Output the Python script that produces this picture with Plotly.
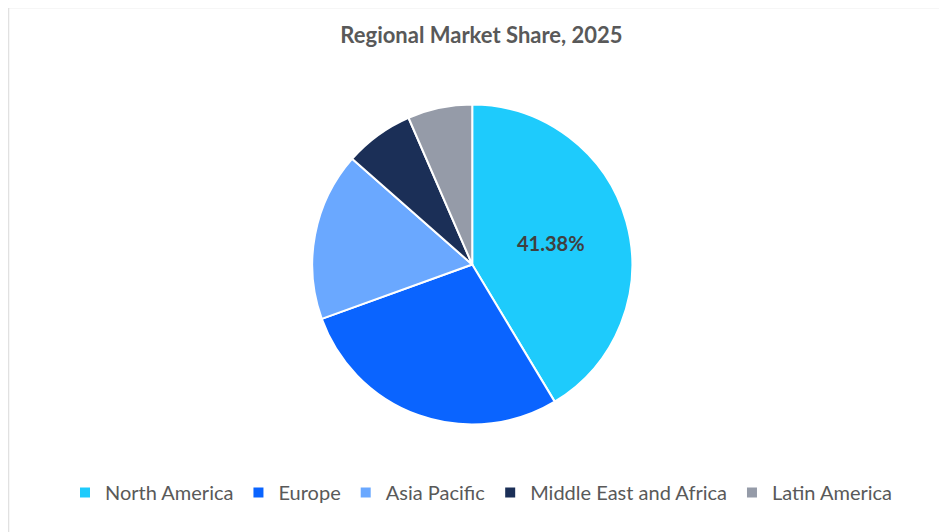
import plotly.graph_objects as go

regions = ["North America", "Europe", "Asia Pacific", "Middle East and Africa", "Latin America"]
shares = [41.38, 28.1, 17.0, 7.0, 6.52]
colors = ["#1ECBFC", "#0A64FF", "#6AA8FF", "#1B2F57", "#959BA8"]
labels_text = ["<b>41.38%</b>", "", "", "", ""]

fig = go.Figure(go.Pie(
    labels=regions, values=shares, sort=False, direction="clockwise", rotation=0,
    marker=dict(colors=colors, line=dict(color="white", width=2)),
    text=labels_text, textinfo="text", textposition="inside",
    insidetextorientation="horizontal",
    textfont=dict(size=20, color="#404040", family="Lato"),
    domain=dict(x=[0.29, 0.69], y=[0.206, 0.831]),
))
fig.update_layout(
    width=947, height=532, paper_bgcolor="white",
    font=dict(family="Lato", color="#595959"),
    title=dict(text="<b>Regional Market Share, 2025</b>", x=0.5, y=0.948, yanchor="middle",
               xanchor="center", font=dict(size=22, color="#595959")),
    legend=dict(orientation="h", x=0.5, xanchor="center", y=0.035, yanchor="bottom",
                font=dict(size=20, color="#595959"), traceorder="normal"),
    margin=dict(l=10, r=10, t=10, b=10),
    shapes=[dict(type="rect", xref="paper", yref="paper", x0=-0.01, x1=1.01, y0=-0.02, y1=1.02,
                 line=dict(color="#D9D9D9", width=1))],
)
fig.write_html("out.html")
